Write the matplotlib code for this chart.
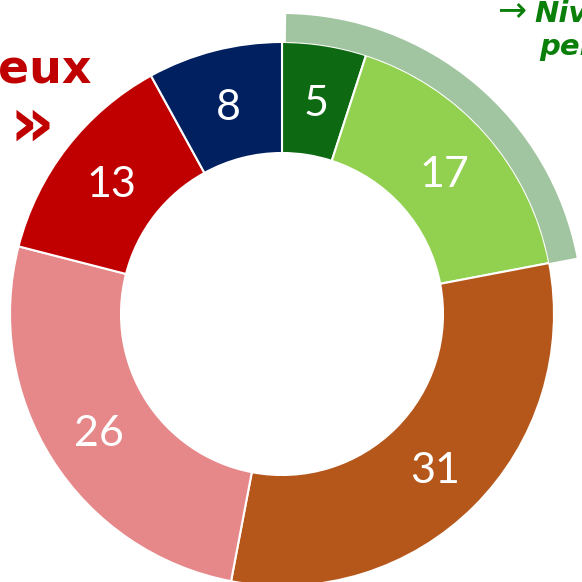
import matplotlib.pyplot as plt
from matplotlib.patches import Wedge

# valeurs du donut (sens horaire depuis le haut)
values = [5, 17, 31, 26, 13, 8]
colors = ['#0E6A12', '#92D050', '#B5561A', '#E6888A', '#C00000', '#002060']
highlight_share = 22  # part couverte par l'arc extérieur (5 + 17)

fig = plt.figure(figsize=(5.82, 5.82), dpi=100)
ax = fig.add_axes([0, 0, 1, 1])

# centre et rayon en pixels (axe y vers le haut)
cx, cy = 282, 582 - 314
r_out = 272
ring = 111

wedges, texts = ax.pie(values, colors=colors, startangle=90, counterclock=False,
                       radius=r_out, center=(cx, cy),
                       labels=[str(v) for v in values], labeldistance=(r_out - ring / 2) / r_out,
                       wedgeprops=dict(width=ring, edgecolor='white', linewidth=1.5),
                       textprops=dict(color='white', fontsize=31, family='Lato'))
for t in texts:
    x, y = t.get_position()
    t.set_position((x, y - 16))
    t.set_ha('center')
    t.set_va('baseline')

# arc extérieur au-dessus des segments verts
end_angle = 90 - highlight_share / 100 * 360
ax.add_patch(Wedge((cx, cy), 300, end_angle, 89.2, width=28, facecolor='#A0C5A0', edgecolor='none'))

ax.set_xlim(0, 582)
ax.set_ylim(0, 582)
ax.set_aspect('equal')
ax.axis('off')

# textes coupés par le bord
ax.text(91, 582 - 83, 'eux', ha='right', va='baseline', color='#C00000',
        fontsize=33, fontweight='heavy', family='DejaVu Sans')
ax.text(10, 582 - 146, '»', ha='left', va='baseline', color='#C00000',
        fontsize=50, fontweight='heavy', family='DejaVu Sans')
ax.text(497, 582 - 20, '→', ha='left', va='baseline', color='#0A800A',
        fontsize=25, family=['DejaVu Sans'])
ax.text(534, 582 - 22, 'Niv', ha='left', va='baseline', color='#0A800A',
        fontsize=21, fontweight='heavy', style='italic')
ax.text(539, 582 - 55, 'per', ha='left', va='baseline', color='#0A800A',
        fontsize=21, fontweight='heavy', style='italic')

fig.savefig('out.png', dpi=100)
